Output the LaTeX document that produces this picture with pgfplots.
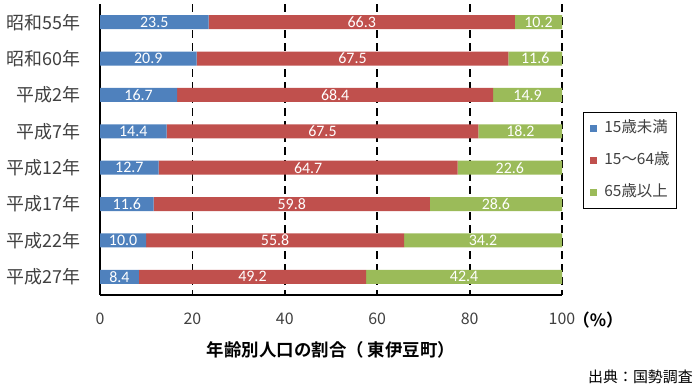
\documentclass[border=0pt]{standalone}
\usepackage{pgfplots}
\pgfplotsset{compat=1.18}
\usepackage{fontspec}
\setmainfont{Carlito}
\newfontfamily\jp{Noto Sans CJK JP}
\newfontfamily\jpb{Noto Sans CJK JP Bold}
\definecolor{cblue}{HTML}{4F81BD}
\definecolor{cred}{HTML}{C0504D}
\definecolor{cgreen}{HTML}{9BBB59}
\definecolor{txt}{HTML}{404040}
\pgfplotsset{common/.style={
  at={(100bp,94bp)}, anchor=south west,
  scale only axis, width=462bp, height=291bp,
  xmin=0, xmax=100, ymin=-0.5, ymax=7.5, y dir=reverse}}
\begin{document}
\begin{tikzpicture}[x=1bp,y=1bp]
\path[use as bounding box] (0,0) rectangle (700,389);
\begin{axis}[
  common,
  xbar stacked, bar width=14bp,
  ytick={0,...,7},
  yticklabels={昭和55年,昭和60年,平成2年,平成7年,平成12年,平成17年,平成22年,平成27年},
  xtick={0,20,40,60,80,100},
  axis x line*=bottom, axis y line*=left,
  axis line style={line width=1.5bp},
  major tick length=0pt,
  xmajorgrids, grid style={black, line width=1.8bp, dash pattern=on 8bp off 5bp},
  yticklabel style={font=\jp\fontsize{18}{18}\selectfont, text=txt, xshift=-16bp},
  xticklabel style={font=\jp\fontsize{16}{16}\selectfont, text=txt, yshift=-14bp},
  /pgf/number format/assume math mode=true,
  legend style={at={(1.045,0.629)}, anchor=north west, draw=black, line width=1.2bp,
    font=\jp\fontsize{15.5}{15.5}\selectfont, text=txt, row sep=18bp, inner xsep=7bp, inner ysep=9bp,
    nodes={inner sep=0bp, text height=11bp, text depth=3bp}},
  legend cell align=left,
  legend image code/.code={\fill[#1] (0bp,-3.5bp) rectangle (7bp,3.5bp); \path (14bp,0bp);},
]
\addplot+[fill=cblue, draw=none] coordinates {(23.5,0) (20.9,1) (16.7,2) (14.4,3) (12.7,4) (11.6,5) (10.0,6) (8.4,7)};
\addplot+[fill=cred, draw=none] coordinates {(66.3,0) (67.5,1) (68.4,2) (67.5,3) (64.7,4) (59.8,5) (55.8,6) (49.2,7)};
\addplot+[fill=cgreen, draw=none] coordinates {(10.2,0) (11.6,1) (14.9,2) (18.2,3) (22.6,4) (28.6,5) (34.2,6) (42.4,7)};
\legend{15歳未満,15～64歳,65歳以上}
\end{axis}
\begin{axis}[
  common, hide axis, clip=false,
  nodes near coords, point meta=explicit symbolic,
  every node near coord/.style={anchor=center, text=white, font=\fontsize{16}{16}\selectfont, inner sep=0pt},
]
\addplot[draw=none, mark=none] coordinates {
 (11.75,0) [23.5] (10.45,1) [20.9] (8.35,2) [16.7] (7.2,3) [14.4]
 (6.35,4) [12.7] (5.8,5) [11.6] (5.0,6) [10.0] (4.2,7) [8.4]};
\addplot[draw=none, mark=none] coordinates {
 (56.65,0) [66.3] (54.65,1) [67.5] (50.9,2) [68.4] (48.15,3) [67.5]
 (45.05,4) [64.7] (41.5,5) [59.8] (37.9,6) [55.8] (33.0,7) [49.2]};
\addplot[draw=none, mark=none] coordinates {
 (94.9,0) [10.2] (94.2,1) [11.6] (92.55,2) [14.9] (91.0,3) [18.2]
 (88.7,4) [22.6] (85.7,5) [28.6] (82.9,6) [34.2] (78.8,7) [42.4]};
\end{axis}
\node[font=\jpb\fontsize{17}{17}\selectfont, text=black] at (598,69) {（\%）};
\node[font=\jpb\fontsize{17.5}{17.5}\selectfont, text=black] at (331,39) {年齢別人口の割合（ 東伊豆町）};
\node[font=\jp\fontsize{15}{15}\selectfont, text=black, anchor=east, inner sep=0pt] at (693,12) {出典：国勢調査};
\end{tikzpicture}
\end{document}
